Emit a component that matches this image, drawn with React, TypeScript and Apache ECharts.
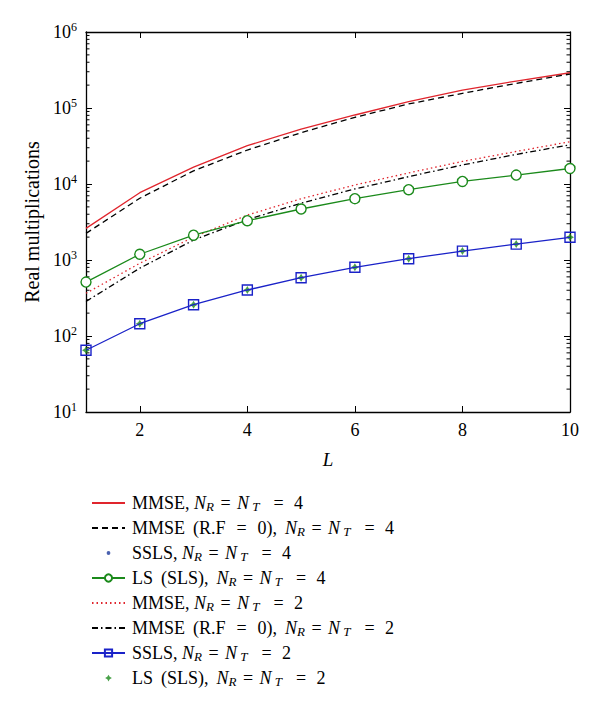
import React, { useEffect, useRef } from 'react';
import * as echarts from 'echarts';

const FONT = '"Liberation Serif", "DejaVu Serif", serif';

const L = [1, 2, 3, 4, 5, 6, 7, 8, 9, 10];
const mmse4 = [2610, 7690, 16700, 31900, 52900, 80900, 121000, 172000, 226000, 291000];
const mmseRF4 = [2240, 6490, 14900, 28000, 47300, 75400, 113000, 156000, 211000, 280000];
const ssls4 = [512, 1190, 2120, 3290, 4690, 6410, 8410, 10800, 13100, 16000];
const ls4 = [512, 1190, 2120, 3290, 4690, 6410, 8410, 10800, 13100, 16000];
const mmse2 = [365, 905, 2000, 3900, 6400, 9700, 14000, 19800, 26800, 36000];
const mmseRF2 = [285, 780, 1830, 3400, 5600, 8600, 12500, 17800, 24500, 32800];
const ssls2 = [65, 145, 258, 403, 585, 801, 1040, 1310, 1620, 1990];
const ls2 = [65, 145, 258, 403, 585, 801, 1040, 1310, 1620, 1990];

const xTicks = [2, 4, 6, 8, 10];
const minorMantissas = [2, 3, 4, 5, 6, 7, 8, 9];
const decades = [10, 100, 1000, 10000, 100000];

const names = [
  'MMSE, NR = NT = 4',
  'MMSE (R.F = 0), NR = NT = 4',
  'SSLS, NR = NT = 4',
  'LS (SLS), NR = NT = 4',
  'MMSE, NR = NT = 2',
  'MMSE (R.F = 0), NR = NT = 2',
  'SSLS, NR = NT = 2',
  'LS (SLS), NR = NT = 2',
];

const RED = '#e0252d';
const BLACK = '#000000';
const BLUE = '#1a22c8';
const DOTBLUE = '#1d3a9c';
const GREEN = '#1b8a1b';

const pair = (ys: number[]) => L.map((x, i) => [x, ys[i]]);

const STAR = 'path://M5,0 L6.9,3.1 L10,5 L6.9,6.9 L5,10 L3.1,6.9 L0,5 L3.1,3.1 Z';
const STAR_ICON = 'path://M0,0 M12,12 M6,1.5 L7.6,4.4 L10.5,6 L7.6,7.6 L6,10.5 L4.4,7.6 L1.5,6 L4.4,4.4 Z';
const DOT_ICON = 'path://M0,0 M10,10 M2.9,5 A2.1,2.1,0,1,1,7.1,5 A2.1,2.1,0,1,1,2.9,5 Z';

function legendLabel(name: string): string {
  const idx = name.indexOf('NR');
  let prefix = name.slice(0, idx);
  const n = name.slice(name.length - 1);
  if (prefix.indexOf('R.F') >= 0) {
    prefix = prefix.replace('MMSE (R.F = 0), ', 'MMSE{sp| }(R.F{eqw|=}0),{sp| }');
  } else {
    prefix = prefix.replace(' (', '{sp| }(').replace('), ', '),{sp| }');
  }
  return `${prefix}{n|N}{s|R}{eq|=}{n|N}{st|T}{eq2|=}${n}`;
}

export default function App() {
  const ref = useRef<HTMLDivElement>(null);
  useEffect(() => {
    const chart = echarts.init(ref.current!, null, { renderer: 'svg' });
    const minorTicks: number[][] = [];
    decades.forEach((d) => minorMantissas.forEach((m) => minorTicks.push([1, m * d])));

    const axisLineStyle = { color: '#000', width: 1.3 };
    const hidden = { itemStyle: { opacity: 0 } };
    const LF = 18;
    const option: any = {
      animation: false,
      backgroundColor: '#fff',
      grid: { left: 86, right: 30, top: 32, bottom: 309, containLabel: false },
      xAxis: [
        {
          type: 'value', min: 1, max: 10, position: 'bottom',
          axisLine: { lineStyle: axisLineStyle },
          axisTick: { inside: true, length: 6, customValues: xTicks, lineStyle: { color: '#000' } },
          axisLabel: { customValues: xTicks, fontFamily: FONT, fontSize: 18, color: '#000', margin: 9 },
          splitLine: { show: false },
          name: 'L', nameLocation: 'middle', nameGap: 38,
          nameTextStyle: { fontFamily: FONT, fontStyle: 'italic', fontSize: 19, color: '#000' },
        },
        {
          type: 'value', min: 1, max: 10, position: 'top',
          axisLine: { lineStyle: axisLineStyle },
          axisTick: { inside: true, length: 6, customValues: xTicks, lineStyle: { color: '#000' } },
          axisLabel: { show: false },
          splitLine: { show: false },
        },
      ],
      yAxis: [
        {
          type: 'log', logBase: 10, min: 10, max: 1000000, position: 'left',
          axisLine: { show: true, lineStyle: axisLineStyle },
          axisTick: { show: true, inside: true, length: 6, lineStyle: { color: '#000' } },
          axisLabel: {
            color: '#000', margin: 9,
            formatter: (v: number) => `{b|10}{e|${Math.round(Math.log10(v))}}`,
            rich: {
              b: { fontFamily: FONT, fontSize: 18, lineHeight: 22, color: '#000' },
              e: { fontFamily: FONT, fontSize: 12, lineHeight: 12, verticalAlign: 'top', color: '#000' },
            },
          },
          splitLine: { show: false },
          name: 'Real multiplications', nameLocation: 'middle', nameGap: 44,
          nameTextStyle: { fontFamily: FONT, fontSize: 20, color: '#000' },
        },
        {
          type: 'log', logBase: 10, min: 10, max: 1000000, position: 'right',
          axisLine: { show: true, lineStyle: axisLineStyle },
          axisTick: { show: true, inside: true, length: 6, lineStyle: { color: '#000' } },
          axisLabel: { show: false },
          splitLine: { show: false },
        },
      ],
      legend: {
        orient: 'vertical', left: 86, top: 488,
        itemWidth: 33, itemHeight: 9, itemGap: 5,
        data: [
          { name: names[0], ...hidden },
          { name: names[1], ...hidden },
          { name: names[2], icon: DOT_ICON },
          { name: names[3] },
          { name: names[4], ...hidden },
          { name: names[5], ...hidden },
          { name: names[6] },
          { name: names[7], icon: STAR_ICON },
        ],
        textStyle: {
          fontFamily: FONT, fontSize: LF, color: '#000', lineHeight: 20, padding: [0, 0, 0, 2],
          rich: {
            n: { fontFamily: FONT, fontStyle: 'italic', fontSize: LF, lineHeight: 20, color: '#000' },
            s: { fontFamily: FONT, fontStyle: 'italic', fontSize: 13, lineHeight: 13, verticalAlign: 'bottom', color: '#000' },
            st: { fontFamily: FONT, fontStyle: 'italic', fontSize: 13, lineHeight: 13, verticalAlign: 'bottom', width: 14, align: 'left', color: '#000' },
            eq: { fontFamily: FONT, fontSize: LF, lineHeight: 20, width: 23, align: 'center', color: '#000' },
            eq2: { fontFamily: FONT, fontSize: LF, lineHeight: 20, width: 31, align: 'center', color: '#000' },
            eqw: { fontFamily: FONT, fontSize: LF, lineHeight: 20, width: 32, align: 'center', color: '#000' },
            sp: { fontFamily: FONT, fontSize: LF, lineHeight: 20, width: 8, color: '#000' },
          },
        },
        formatter: legendLabel,
      },
      series: [
        {
          name: names[0], type: 'line', data: pair(mmse4), symbol: 'none',
          lineStyle: { color: RED, width: 1.3 }, itemStyle: { color: RED },
        },
        {
          name: names[1], type: 'line', data: pair(mmseRF4), symbol: 'none',
          lineStyle: { color: BLACK, width: 1.3, type: [6, 4] }, itemStyle: { color: BLACK },
        },
        {
          name: names[4], type: 'line', data: pair(mmse2), symbol: 'none',
          lineStyle: { color: RED, width: 1.3, type: [1.5, 3] }, itemStyle: { color: RED },
        },
        {
          name: names[5], type: 'line', data: pair(mmseRF2), symbol: 'none',
          lineStyle: { color: BLACK, width: 1.3, type: [6, 3, 1.5, 3] }, itemStyle: { color: BLACK },
        },
        {
          name: names[3], type: 'line', data: pair(ls4), symbol: 'circle', symbolSize: 10,
          lineStyle: { color: GREEN, width: 1.3 },
          itemStyle: { color: '#fff', borderColor: GREEN, borderWidth: 1.4 },
        },
        {
          name: names[2], type: 'scatter', data: pair(ssls4), symbol: 'circle', symbolSize: 4.5,
          itemStyle: { color: DOTBLUE },
        },
        {
          name: names[6], type: 'line', data: pair(ssls2), symbol: 'rect', symbolSize: 10,
          lineStyle: { color: BLUE, width: 1.3 },
          itemStyle: { color: 'rgba(255,255,255,0)', borderColor: BLUE, borderWidth: 1.4 },
        },
        {
          name: names[7], type: 'scatter', data: pair(ls2), symbol: STAR, symbolSize: 8,
          itemStyle: { color: GREEN },
        },
        {
          name: 'minorTicks', type: 'custom', data: minorTicks, silent: true,
          encode: { x: 0, y: 1 },
          renderItem: (_p: any, api: any) => {
            const v = api.value(1);
            const pl = api.coord([1, v]);
            const pr = api.coord([10, v]);
            return {
              type: 'group',
              children: [
                { type: 'line', shape: { x1: pl[0], y1: pl[1], x2: pl[0] + 3.5, y2: pl[1] }, style: { stroke: '#000', lineWidth: 1 } },
                { type: 'line', shape: { x1: pr[0], y1: pr[1], x2: pr[0] - 3.5, y2: pr[1] }, style: { stroke: '#000', lineWidth: 1 } },
              ],
            };
          },
        },
      ],
    };
    chart.setOption(option);
    return () => chart.dispose();
  }, []);
  return <div ref={ref} style={{ position: 'absolute', left: 0, top: 0, width: 600, height: 721 }} />;
}
